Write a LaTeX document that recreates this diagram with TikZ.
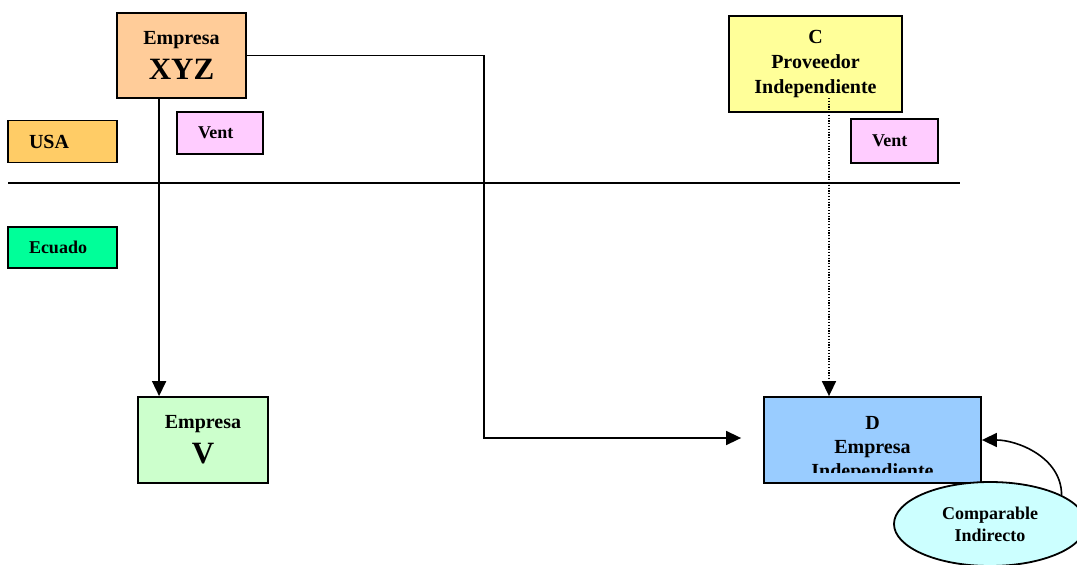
\documentclass[tikz,border=0pt]{standalone}
\usepackage{fontspec}
\setmainfont{Liberation Serif}
\usetikzlibrary{arrows.meta,shapes.geometric,calc}

\definecolor{peach}{HTML}{FFCC99}
\definecolor{amber}{HTML}{FFCC66}
\definecolor{lilac}{HTML}{FFCCFF}
\definecolor{mint}{HTML}{00FF99}
\definecolor{palegreen}{HTML}{CCFFCC}
\definecolor{paleyellow}{HTML}{FFFF99}
\definecolor{skyblue}{HTML}{99CCFF}
\definecolor{palecyan}{HTML}{CCFFFF}

\begin{document}
\begin{tikzpicture}[x=1pt,y=-1pt,
  box/.style={draw=black, line width=1.8pt, rectangle, inner sep=0pt, font=\bfseries},
  bigbox/.style={box, align=center},
  tag/.style={box, align=left, inner xsep=21pt, minimum height=42pt},
  arr/.style={line width=1.6pt, -{Triangle[length=15pt,width=14pt]}},
  plain/.style={line width=1.6pt}]

\useasboundingbox[fill=white] (0,0) rectangle (1077,565);

% country labels and sales tags
\node[tag, fill=amber, text width=67pt, font=\bfseries\fontsize{20}{24}\selectfont] (usa) at (62.5,141.5) {USA};
\node[tag, fill=mint, text width=67pt, minimum height=41pt, font=\bfseries\fontsize{18}{22}\selectfont] (ecu) at (62.5,247.5) {Ecuado};
\node[tag, fill=lilac, text width=44pt, font=\bfseries\fontsize{18}{22}\selectfont] (ventA) at (220,133) {Vent};
\node[tag, fill=lilac, text width=45pt, minimum height=44pt, font=\bfseries\fontsize{18}{22}\selectfont] (ventB) at (894.5,141) {Vent};

% border between the two countries
\coordinate (borderL) at (8,183);
\coordinate (borderR) at (960,183);
\draw[plain] (borderL) -- (borderR);

% companies
\node[bigbox, fill=peach, minimum width=129pt, minimum height=85pt,
      font=\bfseries\fontsize{20}{25}\selectfont] (xyz) at (181.5,55.5)
      {Empresa\\[10pt]{\fontsize{31}{31}\selectfont XYZ}};
\node[bigbox, fill=palegreen, minimum width=130pt, minimum height=86pt,
      font=\bfseries\fontsize{20}{25}\selectfont] (v) at (203,440)
      {Empresa\\[10pt]{\fontsize{31}{31}\selectfont V}};
\node[bigbox, fill=paleyellow, minimum width=173pt, minimum height=96pt,
      font=\bfseries\fontsize{20}{25}\selectfont] (c) at (815.5,64)
      {C\\Proveedor\\Independiente};
\node[box, fill=skyblue, minimum width=217pt, minimum height=86pt] (d) at (872.5,440) {};
\begin{scope}
  \clip (d.north west) rectangle ($(d.south east)+(0,-11)$);
  \node[align=center, inner sep=0pt, font=\bfseries\fontsize{20}{24}\selectfont] (dtext) at (872.5,449)
      {D\\Empresa\\Independiente};
\end{scope}

\node[ellipse, draw=black, line width=1.8pt, fill=palecyan, minimum width=192pt, minimum height=84pt,
      inner sep=0pt, align=center, font=\bfseries\fontsize{18}{22}\selectfont] (comp) at (990,524)
      {Comparable\\Indirecto};

% connectors
\draw[arr] (xyz.south west) ++(43,0) coordinate (xyzdown) -- (xyzdown |- v.north);
\coordinate (bend) at (484,438);
\draw[arr, shorten >=22pt] (xyz.east) -| (bend) -- (bend -| d.west);
\coordinate (cdot) at ($(c.south)+(13.5,-15)$);
\draw[line width=1.5pt, dash pattern=on 1.2pt off 1.6pt] (cdot) -- ($(cdot |- d.north)+(0,-12)$);
\draw[arr] ($(cdot |- d.north)+(0,-13)$) -- (cdot |- d.north);
\draw[arr] (comp.22) .. controls +(0,-38) and +(35,0) .. (d.east);
\end{tikzpicture}
\end{document}
